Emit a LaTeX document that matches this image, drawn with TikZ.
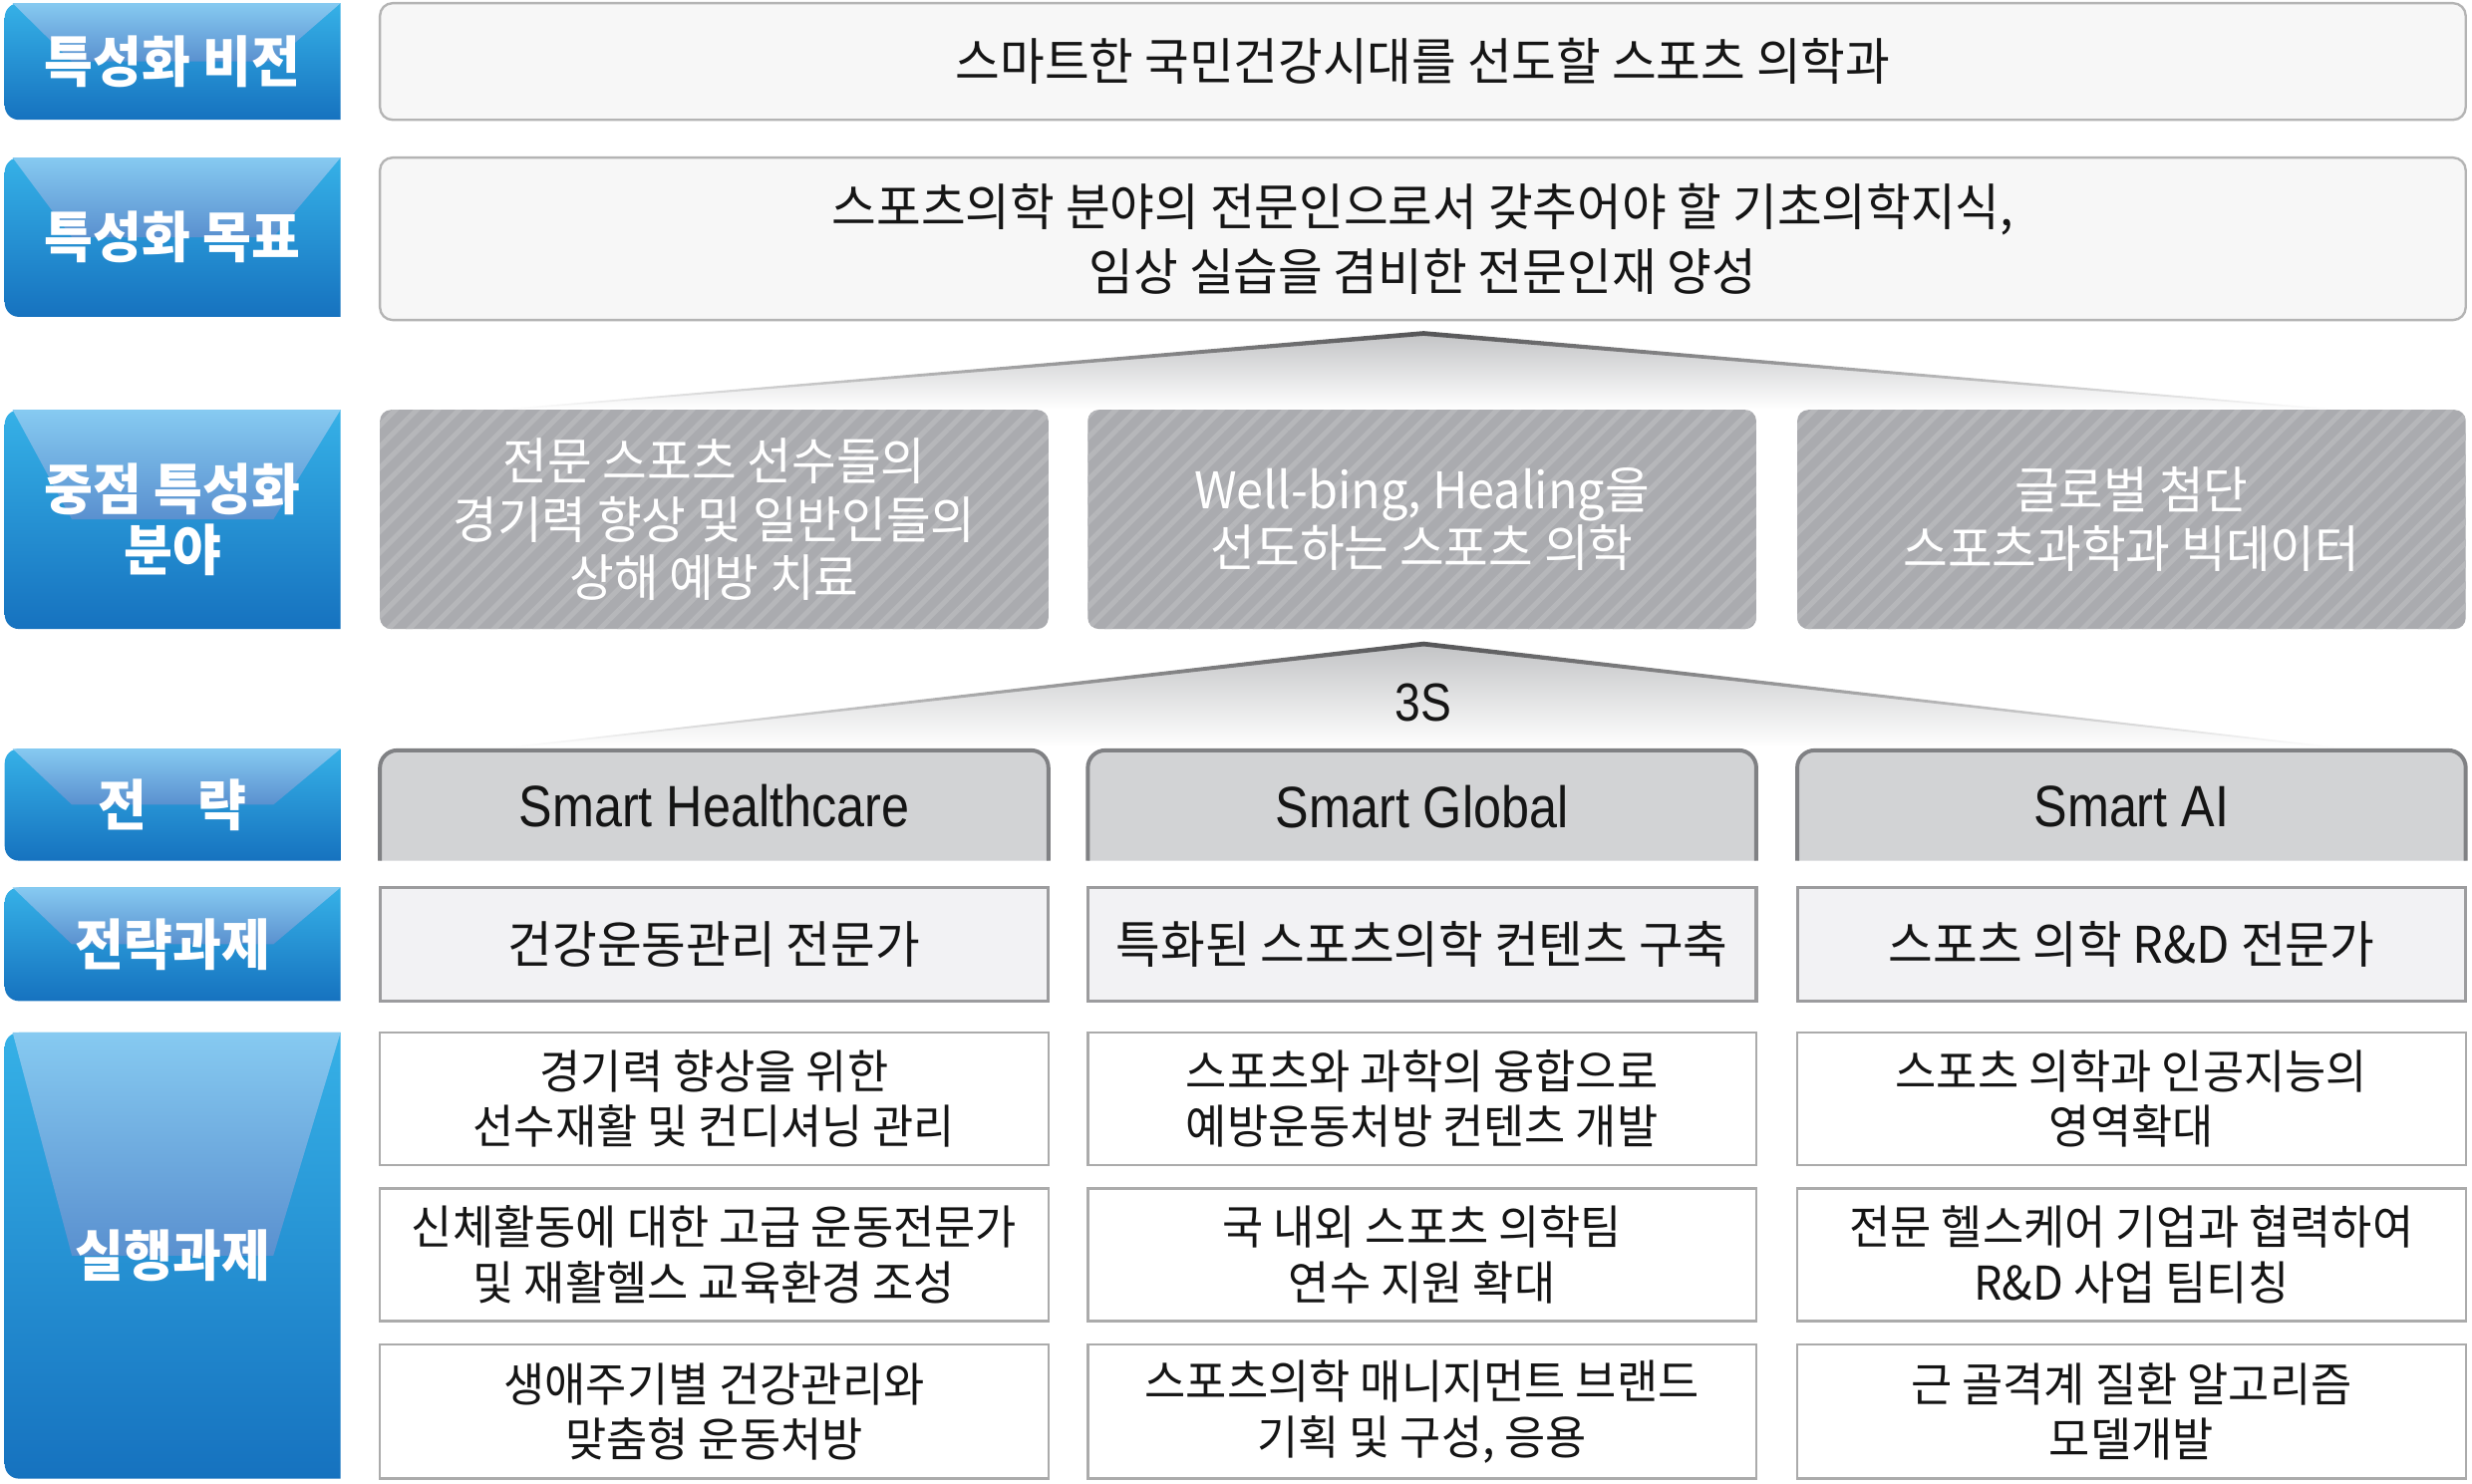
\documentclass[tikz,border=0pt]{standalone}
\usepackage{fontspec}
\usetikzlibrary{patterns.meta}
\newfontfamily\kr{Noto Sans CJK KR}[FakeStretch=0.96]
\newfontfamily\lat{Liberation Sans}[FakeStretch=0.86]
\definecolor{lbTop}{HTML}{36B1E7}
\definecolor{lbMid}{HTML}{5A90CF}
\definecolor{lbBot}{HTML}{1672BF}
\definecolor{hlTop}{HTML}{86CAF1}
\definecolor{cbFill}{HTML}{F7F7F7}
\definecolor{cbLine}{HTML}{B4B4B4}
\definecolor{gbFill}{HTML}{AAABAF}
\definecolor{gbStripe}{HTML}{B6B7BA}
\definecolor{tbFill}{HTML}{D2D3D5}
\definecolor{tbLine}{HTML}{808184}
\definecolor{tkFill}{HTML}{F2F2F4}
\definecolor{tkLine}{HTML}{9C9C9E}
\definecolor{exLine}{HTML}{ABABAB}
\definecolor{roofTop}{HTML}{C2C3C5}
\definecolor{roofLine}{HTML}{555557}
\definecolor{txt}{HTML}{151515}
\tikzset{
  labeltext/.style={text=white, align=center, font=\kr\bfseries\fontsize{35}{39}\selectfont},
  contentbox/.style={draw=cbLine, line width=1.5, fill=cbFill, rounded corners=8,
     text=txt, align=center, minimum width=1323, inner sep=0, font=\kr\fontsize{32}{41}\selectfont},
  graybox/.style={fill=gbFill, rounded corners=7,
     postaction={pattern={Lines[angle=45,distance=9.5pt,line width=3.2pt]}, pattern color=gbStripe},
     minimum width=424, minimum height=139, inner sep=0, text=white, align=center,
     font=\kr\fontsize{32}{37}\selectfont},
  tabtext/.style={text=txt, font=\lat\fontsize{37}{40}\selectfont},
  taskbox/.style={draw=tkLine, line width=2, fill=tkFill, minimum width=424, minimum height=72,
     inner sep=0, text=txt, align=center, font=\kr\fontsize{32}{38}\selectfont},
  execbox/.style={draw=exLine, line width=1.5, fill=white, minimum width=424, minimum height=84,
     inner sep=0, text=txt, align=center, font=\kr\fontsize{29.5}{35}\selectfont},
}
% x1 y1 x2 y2 name text
\newcommand\mklabel[6]{%
  \shade[top color=lbTop, middle color=lbMid, bottom color=lbBot]
    (#3,#2) -- ({#1+9},#2) arc[start angle=270,end angle=180,radius=9]
    -- (#1,{#4-9}) arc[start angle=180,end angle=90,radius=9] -- (#3,#4) -- cycle;
  \shade[top color=hlTop, bottom color=lbMid]
    ({#1+5},#2) -- (#3,#2) -- ({#3-0.2*(#3-#1)},{(#2+#4)/2}) -- ({#1+0.2*(#3-#1)},{(#2+#4)/2}) -- cycle;
  \node[labeltext] (#5) at ({(#1+#3)/2},{(#2+#4)/2}) {#6};
}
% x1 y1 x2 y2
\newcommand\mktab[4]{%
  \fill[tbFill] (#1,#4) -- (#1,{#2+11}) arc[start angle=180,end angle=270,radius=11]
    -- ({#3-11},#2) arc[start angle=270,end angle=360,radius=11] -- (#3,#4) -- cycle;
  \draw[tbLine, line width=2.5] (#1,#4) -- (#1,{#2+11}) arc[start angle=180,end angle=270,radius=11]
    -- ({#3-11},#2) arc[start angle=270,end angle=360,radius=11] -- (#3,#4);
}
\begin{document}
\begin{tikzpicture}[x=1pt,y=-1pt]
\useasboundingbox (0,0) rectangle (1568,940.8);
\fill[white] (0,0) rectangle (1568,940.8);

% left labels
\mklabel{3}{2}{216}{76}{lvision}{특성화 비전}
\mklabel{3}{100}{216}{201}{lgoal}{특성화 목표}
\mklabel{3}{260}{216}{399}{lfocus}{중점 특성화\\분야}
\mklabel{3}{475}{216}{546}{lstrat}{전\hspace{32pt}략}
\mklabel{3}{563}{216}{635}{ltask}{전략과제}
\mklabel{3}{655}{216}{938}{lexec}{실행과제}

% vision and goal
\node[contentbox, minimum height=74] (vision) at (902.5,39) {스마트한 국민건강시대를 선도할 스포츠 의학과};
\node[contentbox, minimum height=103] (goal) at (902.5,151.5) {스포츠의학 분야의 전문인으로서 갖추어야 할 기초의학지식,\\임상 실습을 겸비한 전문인재 양성};

% roof 1
\shade[top color=roofTop, bottom color=white] (320,259.5) -- (903,211) -- (1480,259.5) -- cycle;
\shade[left color=white, right color=roofLine] (320,259.5) -- (903,210) -- (903,213) -- (320,260.3) -- cycle;
\shade[left color=roofLine, right color=white] (903,210) -- (1480,259.5) -- (1480,260.3) -- (903,213) -- cycle;

% focus boxes
\node[graybox] (f1) at (453,329.5) {전문 스포츠 선수들의\\경기력 향상 및 일반인들의\\상해 예방 치료};
\node[graybox] (f2) at (902,329.5) {Well-bing, Healing을\\선도하는 스포츠 의학};
\node[graybox] (f3) at (1352,329.5) {글로벌 첨단\\스포츠과학과 빅데이터};

% roof 2
\shade[top color=roofTop, bottom color=white] (322,474) -- (903,408) -- (1482,474) -- cycle;
\shade[left color=white, right color=roofLine] (322,474) -- (903,407) -- (903,410) -- (322,474.8) -- cycle;
\shade[left color=roofLine, right color=white] (903,407) -- (1482,474) -- (1482,474.8) -- (903,410) -- cycle;
\node[tabtext, font=\lat\fontsize{34}{38}\selectfont] (s3) at (903,446) {3S};

% strategy tabs
\mktab{241}{476}{665}{546}
\mktab{690}{476}{1114}{546}
\mktab{1140}{476}{1564}{546}
\node[tabtext] (t1) at (453,511) {Smart Healthcare};
\node[tabtext] (t2) at (902,512) {Smart Global};
\node[tabtext] (t3) at (1352,512) {Smart AI};

% strategic tasks
\node[taskbox] (k1) at (453,599) {건강운동관리 전문가};
\node[taskbox] (k2) at (902,599) {특화된 스포츠의학 컨텐츠 구축};
\node[taskbox] (k3) at (1352,599) {스포츠 의학 R\&D 전문가};

% execution tasks
\node[execbox] (e11) at (453,697) {경기력 향상을 위한\\선수재활 및 컨디셔닝 관리};
\node[execbox] (e12) at (902,697) {스포츠와 과학의 융합으로\\예방운동처방 컨텐츠 개발};
\node[execbox] (e13) at (1352,697) {스포츠 의학과 인공지능의\\영역확대};
\node[execbox] (e21) at (453,796) {신체활동에 대한 고급 운동전문가\\및 재활헬스 교육환경 조성};
\node[execbox] (e22) at (902,796) {국 내외 스포츠 의학팀\\연수 지원 확대};
\node[execbox] (e23) at (1352,796) {전문 헬스케어 기업과 협력하여\\R\&D 사업 팀티칭};
\node[execbox, minimum height=85] (e31) at (453,895.5) {생애주기별 건강관리와\\맞춤형 운동처방};
\node[execbox, minimum height=85] (e32) at (902,895.5) {스포츠의학 매니지먼트 브랜드\\기획 및 구성, 응용};
\node[execbox, minimum height=85] (e33) at (1352,895.5) {근 골격계 질환 알고리즘\\모델개발};
\end{tikzpicture}
\end{document}
